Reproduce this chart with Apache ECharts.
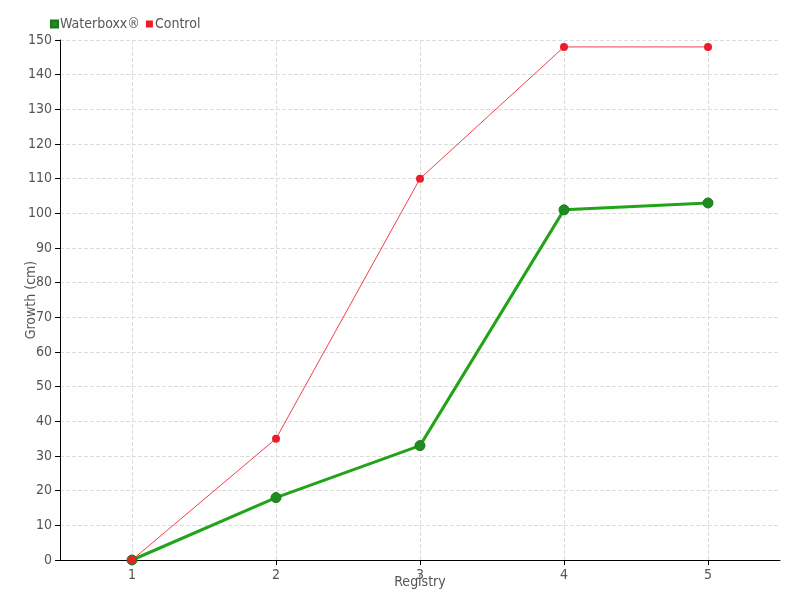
<!DOCTYPE html>
<html>
<head>
<meta charset="utf-8">
<script src="https://cdn.jsdelivr.net/npm/echarts@6/dist/echarts.min.js"></script>
<style>
html,body{margin:0;padding:0;background:#fff;}
#main{width:800px;height:600px;}
</style>
</head>
<body>
<div id="main"></div>
<script>
// 数据
var categories = [1, 2, 3, 4, 5];
var waterboxx = [0, 18, 33, 101, 103];
var control = [0, 35, 110, 148, 148];

function pairs(vals) {
    return vals.map(function (v, i) { return [categories[i], v]; });
}

var font = 'DejaVu Sans Condensed, sans-serif';
var textColor = '#555';

var option = {
    animation: false,
    textStyle: {fontFamily: font},
    legend: {
        left: 45,
        top: 12,
        itemWidth: 7,
        itemHeight: 7,
        itemGap: 6,
        icon: 'rect',
        textStyle: {color: textColor, fontSize: 14, fontFamily: font, padding: [0, 0, 0, -3]},
        data: ['Waterboxx®', 'Control']
    },
    grid: {left: 60, right: 20, top: 40, bottom: 40, outerBoundsMode: 'none'},
    xAxis: {
        type: 'value',
        min: 0.5,
        max: 5.5,
        name: 'Registry',
        nameLocation: 'middle',
        nameGap: 15,
        nameMoveOverlap: false,
        nameTextStyle: {color: textColor, fontSize: 14},
        axisLine: {lineStyle: {color: '#000'}},
        axisTick: {show: true, length: 5, lineStyle: {color: '#000'}, customValues: categories},
        axisLabel: {color: textColor, fontSize: 14, margin: 8, customValues: categories},
        splitLine: {show: true, lineStyle: {color: '#ddd', type: 'dashed'}}
    },
    yAxis: {
        type: 'value',
        min: 0,
        max: 150,
        interval: 10,
        name: 'Growth (cm)',
        nameLocation: 'middle',
        nameGap: 22,
        nameMoveOverlap: false,
        nameTextStyle: {color: textColor, fontSize: 14},
        axisLine: {show: true, lineStyle: {color: '#000'}},
        axisTick: {show: true, length: 5, lineStyle: {color: '#000'}},
        axisLabel: {color: textColor, fontSize: 14, margin: 8},
        splitLine: {lineStyle: {color: '#ddd', type: 'dashed'}}
    },
    series: [
        {
            name: 'Waterboxx®',
            type: 'line',
            data: pairs(waterboxx),
            symbol: 'circle',
            symbolSize: 10,
            color: '#1ea01a',
            lineStyle: {width: 3, color: '#22a31a'},
            itemStyle: {color: '#1e8c1e', borderColor: '#1a7a1a', borderWidth: 1}
        },
        {
            name: 'Control',
            type: 'line',
            data: pairs(control),
            symbol: 'circle',
            symbolSize: 8,
            color: '#ee1c2b',
            lineStyle: {width: 1, color: '#f0414d'},
            itemStyle: {color: '#ee1c2b'}
        }
    ]
};

var myChart = echarts.init(document.getElementById('main'));
myChart.setOption(option);
</script>
</body>
</html>
